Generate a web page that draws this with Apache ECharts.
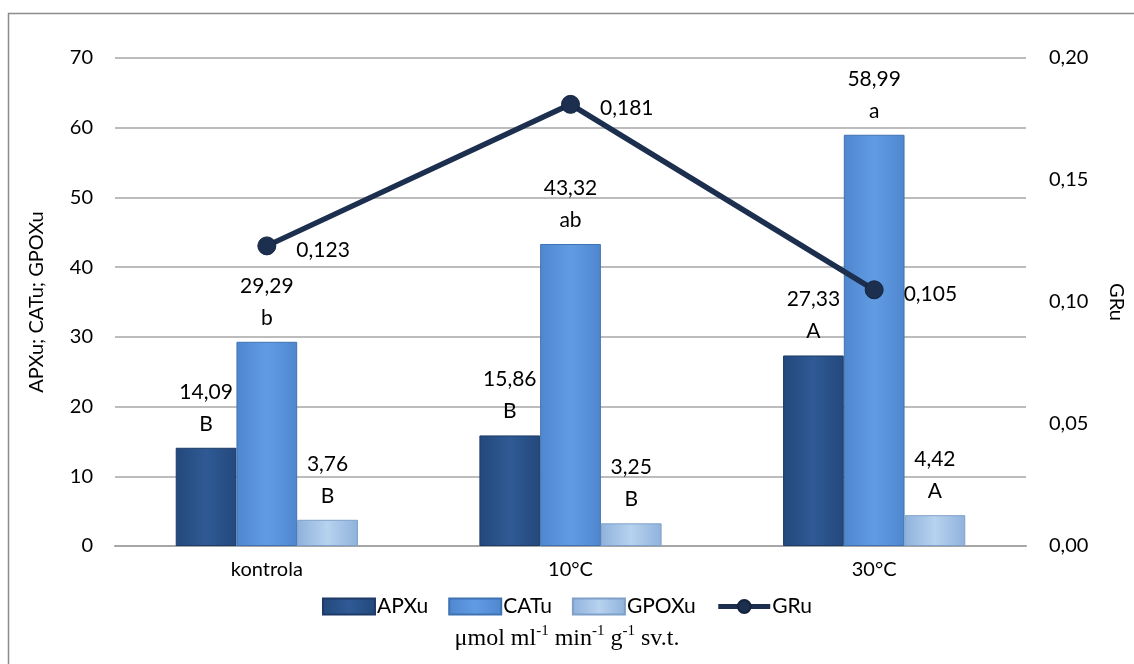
<!DOCTYPE html>
<html><head><meta charset="utf-8">
<script src="https://cdn.jsdelivr.net/npm/echarts@6/dist/echarts.min.js"></script>
<style>html,body{margin:0;padding:0;background:#fff}#c{width:1134px;height:664px}</style>
</head><body><div id="c"></div>
<script>
const categories = ['kontrola', '10°C', '30°C'];
const apxu = [14.09, 15.86, 27.33];
const catu = [29.29, 43.32, 58.99];
const gpoxu = [3.76, 3.25, 4.42];
const gru = [0.123, 0.181, 0.105];
const apxuLetters = ['B', 'B', 'A'];
const catuLetters = ['b', 'ab', 'a'];
const gpoxuLetters = ['B', 'B', 'A'];
const leftTicks = [0, 10, 20, 30, 40, 50, 60, 70];
const rightTicks = [0, 0.05, 0.10, 0.15, 0.20];

const FONT = 'Lato, "Open Sans", sans-serif';
const SERIF = '"Liberation Serif", "DejaVu Serif", serif';
const fmt = (v, d) => v.toFixed(d).replace('.', ',');
function grad(top, bottom) {
  return new echarts.graphic.LinearGradient(0, 0, 1, 0, [
    {offset: 0, color: top}, {offset: 0.5, color: bottom}, {offset: 1, color: top}]);
}
function barSeries(name, data, letters, color, border) {
  return {
    name, type: 'bar', data, yAxisIndex: 0, barGap: '0%', barCategoryGap: '40%',
    itemStyle: {color, borderColor: border, borderWidth: 1},
    label: {
      show: true, position: 'top', distance: 8, color: '#000', fontFamily: FONT, fontSize: 21, lineHeight: 32,
      formatter: p => fmt(p.value, 2) + '\n' + letters[p.dataIndex]
    }
  };
}
const chart = echarts.init(document.getElementById('c'));
chart.setOption({
  animation: false,
  backgroundColor: '#fff',
  textStyle: {fontFamily: FONT},
  graphic: [{type: 'rect', shape: {x: 8.5, y: 13.5, width: 1140, height: 670}, style: {fill: 'none', stroke: '#8c8c8c', lineWidth: 1.5}, z: 100, silent: true},
    {type: 'text', left: 'center', top: 624, style: {
      text: '{n|μmol ml}{s|-1}{n| min}{s|-1}{n| g}{s|-1}{n| sv.t.}',
      rich: {n: {fontFamily: SERIF, fontSize: 24, fill: '#000', verticalAlign: 'bottom'},
             s: {fontFamily: SERIF, fontSize: 15, fill: '#000', verticalAlign: 'top', padding: [0, 0, 12, 0]}}
    }}],
  legend: {
    bottom: 42, left: 'center', itemWidth: 52, itemHeight: 16, itemGap: 20,
    textStyle: {fontFamily: FONT, fontSize: 21, color: '#000', padding: [0, 0, 0, -3]},
    data: [{name: 'APXu', icon: 'rect'}, {name: 'CATu', icon: 'rect'}, {name: 'GPOXu', icon: 'rect'},
           {name: 'GRu', lineStyle: {width: 5, color: '#1c2f4f'}}]
  },
  grid: {left: 115, right: 102, top: 58, bottom: 118},
  xAxis: {
    type: 'category', data: categories,
    axisLine: {lineStyle: {color: '#a6a6a6', width: 2}},
    axisTick: {show: false},
    axisLabel: {fontFamily: FONT, fontSize: 20, color: '#000', margin: 14}
  },
  yAxis: [{
    type: 'value', min: 0, max: 70, interval: 10,
    name: 'APXu; CATu; GPOXu', nameLocation: 'middle', nameGap: 68, nameRotate: 90,
    nameTextStyle: {fontFamily: FONT, fontSize: 20, color: '#000'},
    axisLine: {show: false}, axisTick: {show: false},
    splitLine: {lineStyle: {color: '#a6a6a6', width: 1.5}},
    axisLabel: {fontFamily: FONT, fontSize: 20, color: '#000', margin: 22, formatter: v => leftTicks.includes(v) ? String(v) : ''}
  }, {
    type: 'value', min: 0, max: 0.20, interval: 0.05, position: 'right',
    name: 'GRu', nameLocation: 'middle', nameGap: 80, nameRotate: -90,
    nameTextStyle: {fontFamily: FONT, fontSize: 20, color: '#000'},
    axisLine: {show: false}, axisTick: {show: false}, splitLine: {show: false},
    axisLabel: {fontFamily: FONT, fontSize: 20, color: '#000', margin: 23, formatter: v => fmt(v, 2)}
  }],
  series: [
    barSeries('APXu', apxu, apxuLetters, grad('#23497c', '#2f5a94'), '#1d3b66'),
    barSeries('CATu', catu, catuLetters, grad('#4f87cf', '#619ce3'), '#3f72b3'),
    barSeries('GPOXu', gpoxu, gpoxuLetters, grad('#8fb2dc', '#b8d2ef'), '#7fa0c8'),
    {
      name: 'GRu', type: 'line', data: gru, yAxisIndex: 1, z: 10,
      symbol: 'circle', symbolSize: 18,
      lineStyle: {color: '#1c2f4f', width: 5.5},
      itemStyle: {color: '#1c2f4f', borderColor: '#14233d', borderWidth: 1},
      label: {show: true, position: 'right', distance: 20, offset: [0, 4], color: '#000', fontFamily: FONT, fontSize: 21, formatter: p => fmt(p.value, 3)}
    }
  ]
});
</script></body></html>
